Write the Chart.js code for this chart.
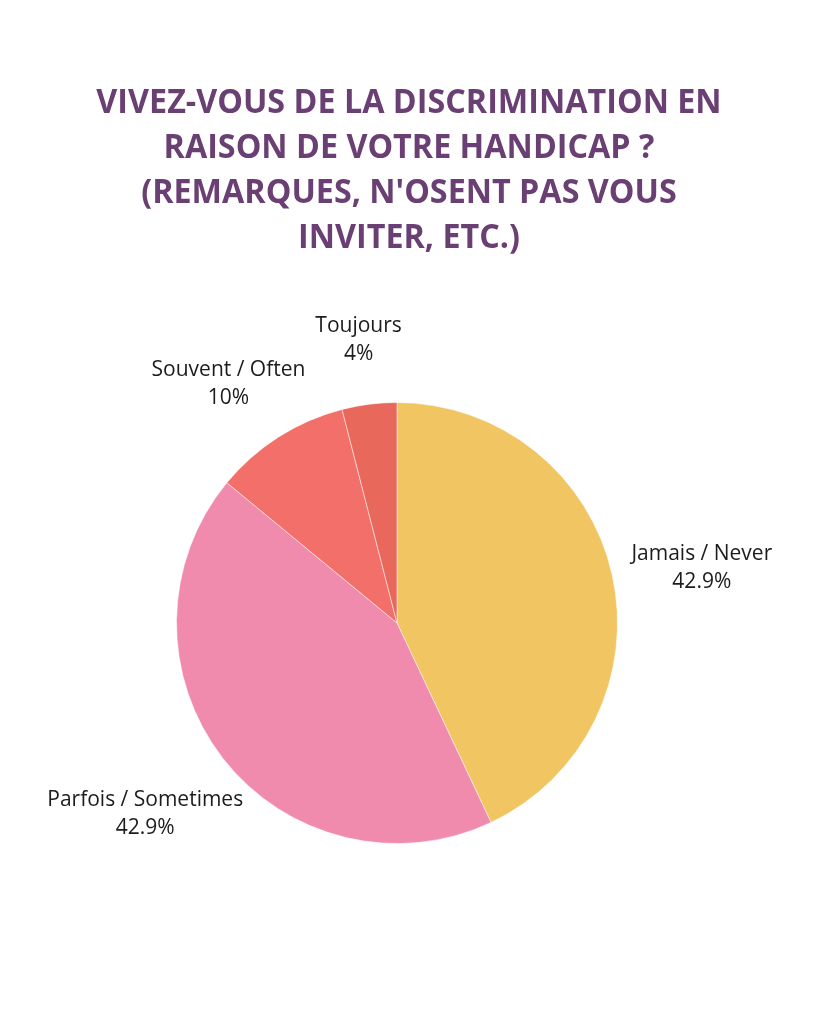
<!DOCTYPE html>
<html>
<head>
<meta charset="utf-8">
<script src="https://cdn.jsdelivr.net/npm/chart.js@4"></script>
<style>
  html, body { margin: 0; padding: 0; background: #fff; }
  #wrap { width: 819px; height: 1024px; }
</style>
</head>
<body>
<div id="wrap"><canvas id="pieChart" width="819" height="1024"></canvas></div>
<script>
const titleLines = [
  'VIVEZ-VOUS DE LA DISCRIMINATION EN',
  'RAISON DE VOTRE HANDICAP ?',
  "(REMARQUES, N'OSENT PAS VOUS",
  'INVITER, ETC.)'
];
const categories = ['Jamais / Never', 'Parfois / Sometimes', 'Souvent / Often', 'Toujours'];
const values = [42.9, 42.9, 10, 4];
const valueLabels = ['42.9%', '42.9%', '10%', '4%'];
const colors = ['#F2C563', '#F08BAD', '#F3706A', '#E8695B'];

// title drawn on the canvas, squeezed a bit to look condensed
const titlePlugin = {
  id: 'titleText',
  afterDraw(chart) {
    const c = chart.ctx;
    c.save();
    c.fillStyle = '#6A3F73';
    c.font = 'bold 34px "Open Sans"';
    c.textAlign = 'center';
    c.textBaseline = 'middle';
    titleLines.forEach(function(line, i) {
      c.save();
      c.translate(409, 103 + i * 45);
      c.scale(0.95, 1);
      c.fillText(line, 0, 0);
      c.restore();
    });
    c.restore();
  }
};

// outside labels placed along each slice's mid angle
const outsideLabels = {
  id: 'outsideLabels',
  afterDatasetsDraw(chart) {
    const c = chart.ctx;
    const arcs = chart.getDatasetMeta(0).data;
    c.save();
    c.fillStyle = '#1c1c1c';
    c.font = '21px "Open Sans"';
    c.textAlign = 'center';
    c.textBaseline = 'middle';
    arcs.forEach(function(arc, i) {
      const mid = (arc.startAngle + arc.endAngle) / 2;
      const r = arc.outerRadius * 1.34;
      const w = c.measureText(categories[i]).width;
      const x = arc.x + Math.cos(mid) * r + Math.cos(mid) * w * 0.12;
      const y = arc.y + Math.sin(mid) * r + 10;
      c.fillText(categories[i], x, y - 14);
      c.fillText(valueLabels[i], x, y + 14);
    });
    c.restore();
  }
};

new Chart(document.getElementById('pieChart'), {
  type: 'pie',
  data: {
    labels: categories,
    datasets: [{
      data: values,
      backgroundColor: colors,
      borderColor: 'rgba(255,255,255,0.5)',
      borderWidth: 1
    }]
  },
  options: {
    responsive: false,
    animation: false,
    layout: {
      padding: { left: 176, right: 201, top: 402, bottom: 180 }
    },
    plugins: {
      legend: { display: false },
      tooltip: { enabled: false }
    }
  },
  plugins: [titlePlugin, outsideLabels]
});
</script>
</body>
</html>
